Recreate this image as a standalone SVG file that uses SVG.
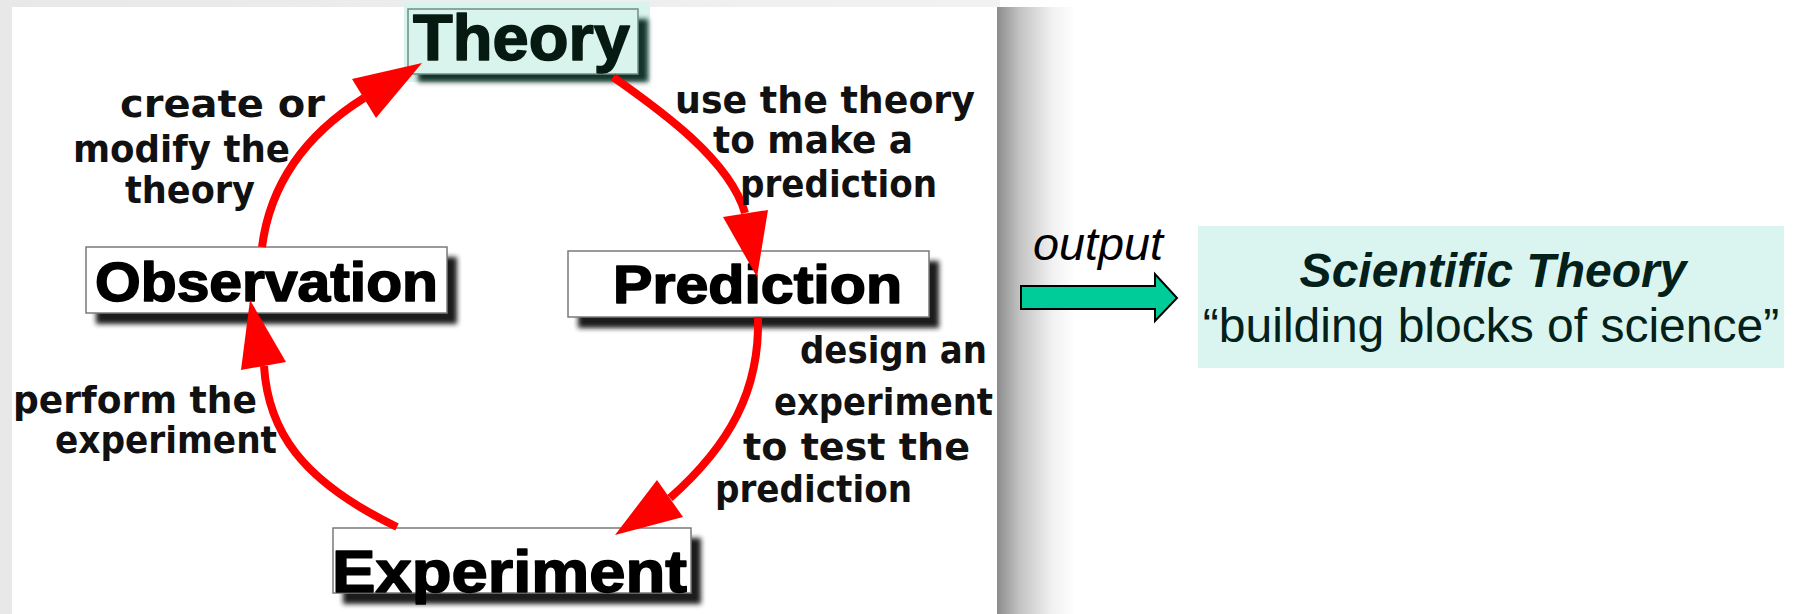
<svg xmlns="http://www.w3.org/2000/svg" width="1793" height="614" viewBox="0 0 1793 614">
<style>
.lbl{font-family:"DejaVu Sans",sans-serif;font-weight:bold;font-size:38px;fill:#111}
.node{font-family:"Liberation Sans",Arial,sans-serif;font-weight:bold;fill:#000;stroke:#000;stroke-width:1.6;stroke-linejoin:round}
.box{fill:#fff;stroke:#7a7a7a;stroke-width:1.5}
.shd{fill:#1e1e1e;filter:url(#blur)}
.red{fill:none;stroke:#ff0000;stroke-width:8;stroke-linecap:butt}
.head{fill:#ff0000}
.st{font-family:"Liberation Sans",Arial,sans-serif;fill:#04201a}
</style>
<defs>
<filter id="blur" x="-10%" y="-30%" width="120%" height="160%"><feGaussianBlur stdDeviation="2.5"/></filter>
<linearGradient id="rshadow" x1="0" y1="0" x2="1" y2="0">
<stop offset="0" stop-color="#8c8c8c"/>
<stop offset="0.3" stop-color="#c4c4c4"/>
<stop offset="0.7" stop-color="#f0f0f0"/>
<stop offset="1" stop-color="#ffffff"/>
</linearGradient>
<linearGradient id="lshadow" x1="0" y1="0" x2="1" y2="0">
<stop offset="0" stop-color="#e8e8e8"/>
<stop offset="1" stop-color="#f2f2f2"/>
</linearGradient>
</defs>
<rect x="0" y="0" width="1793" height="614" fill="#fff"/>
<g id="panel">
<rect x="0" y="0" width="1000" height="614" fill="url(#lshadow)"/>
<rect x="12" y="7" width="985" height="607" fill="#fff"/>
<rect x="997" y="7" width="78" height="607" fill="url(#rshadow)"/>
</g>
<g id="theory">
<rect x="404" y="2" width="246" height="80" fill="#d8f4ed"/>
<rect x="418" y="19" width="230" height="63" fill="#16342a" filter="url(#blur)"/>
<rect x="408" y="9" width="230" height="65" fill="#d8f4ed" stroke="#6d8f85" stroke-width="1.5"/>
<text class="node" x="413" y="60" font-size="65" textLength="217" lengthAdjust="spacingAndGlyphs" style="fill:#061a12;stroke:#061a12">Theory</text>
</g>
<g id="observation">
<rect class="shd" x="96" y="257" width="361" height="67"/>
<rect class="box" x="86" y="247" width="361" height="66"/>
<text class="node" x="95" y="301" font-size="56" textLength="343" lengthAdjust="spacingAndGlyphs">Observation</text>
</g>
<g id="prediction">
<rect class="shd" x="578" y="261" width="361" height="67"/>
<rect class="box" x="568" y="251" width="361" height="66"/>
<text class="node" x="613" y="303" font-size="54" textLength="289" lengthAdjust="spacingAndGlyphs">Prediction</text>
</g>
<g id="experiment">
<rect class="shd" x="343" y="538" width="358" height="66"/>
<rect class="box" x="333" y="528" width="358" height="65"/>
<text class="node" x="332" y="592" font-size="60" textLength="355" lengthAdjust="spacingAndGlyphs">Experiment</text>
</g>
<g id="connectors">
<path class="red" d="M262,247 C270,185 305,135 364,98"/>
<polygon class="head" points="422,63 352,79 376,118"/>
<path class="red" d="M613,77 C660,110 730,160 745,213"/>
<polygon class="head" points="757,277 723,217 768,210"/>
<path class="red" d="M758,317 C760,390 730,445 670,498"/>
<polygon class="head" points="615,535 657,480 683,517"/>
<path class="red" d="M397,527 C300,480 268,430 264,366"/>
<polygon class="head" points="250,300 241,370 286,362"/>
<polygon points="1021,286 1155,286 1155,274 1177,298 1155,321 1155,309 1021,309" fill="#00cc99" stroke="#000" stroke-width="2"/>
</g>
<g id="labels">
<text class="lbl" x="120" y="117" textLength="205" lengthAdjust="spacingAndGlyphs">create or</text>
<text class="lbl" x="73" y="162" textLength="217" lengthAdjust="spacingAndGlyphs">modify the</text>
<text class="lbl" x="125" y="203" textLength="130" lengthAdjust="spacingAndGlyphs">theory</text>
<text class="lbl" x="675" y="113" textLength="300" lengthAdjust="spacingAndGlyphs">use the theory</text>
<text class="lbl" x="713" y="153" textLength="200" lengthAdjust="spacingAndGlyphs">to make a</text>
<text class="lbl" x="740" y="197" textLength="197" lengthAdjust="spacingAndGlyphs">prediction</text>
<text class="lbl" x="13" y="413" textLength="244" lengthAdjust="spacingAndGlyphs">perform the</text>
<text class="lbl" x="55" y="453" textLength="222" lengthAdjust="spacingAndGlyphs">experiment</text>
<text class="lbl" x="800" y="363" textLength="187" lengthAdjust="spacingAndGlyphs">design an</text>
<text class="lbl" x="774" y="415" textLength="219" lengthAdjust="spacingAndGlyphs">experiment</text>
<text class="lbl" x="743" y="460" textLength="227" lengthAdjust="spacingAndGlyphs">to test the</text>
<text class="lbl" x="715" y="502" textLength="197" lengthAdjust="spacingAndGlyphs">prediction</text>
<text x="1033" y="260" font-family="Liberation Sans, Arial, sans-serif" font-style="italic" font-size="46" textLength="130" lengthAdjust="spacingAndGlyphs" fill="#000">output</text>
</g>
<g id="scientific-theory">
<rect x="1198" y="226" width="586" height="142" fill="#daf5ef"/>
<text class="st" x="1493" y="287" text-anchor="middle" font-size="48" font-weight="bold" font-style="italic">Scientific Theory</text>
<text class="st" x="1491" y="342" text-anchor="middle" font-size="48">“building blocks of science”</text>
</g>
</svg>
